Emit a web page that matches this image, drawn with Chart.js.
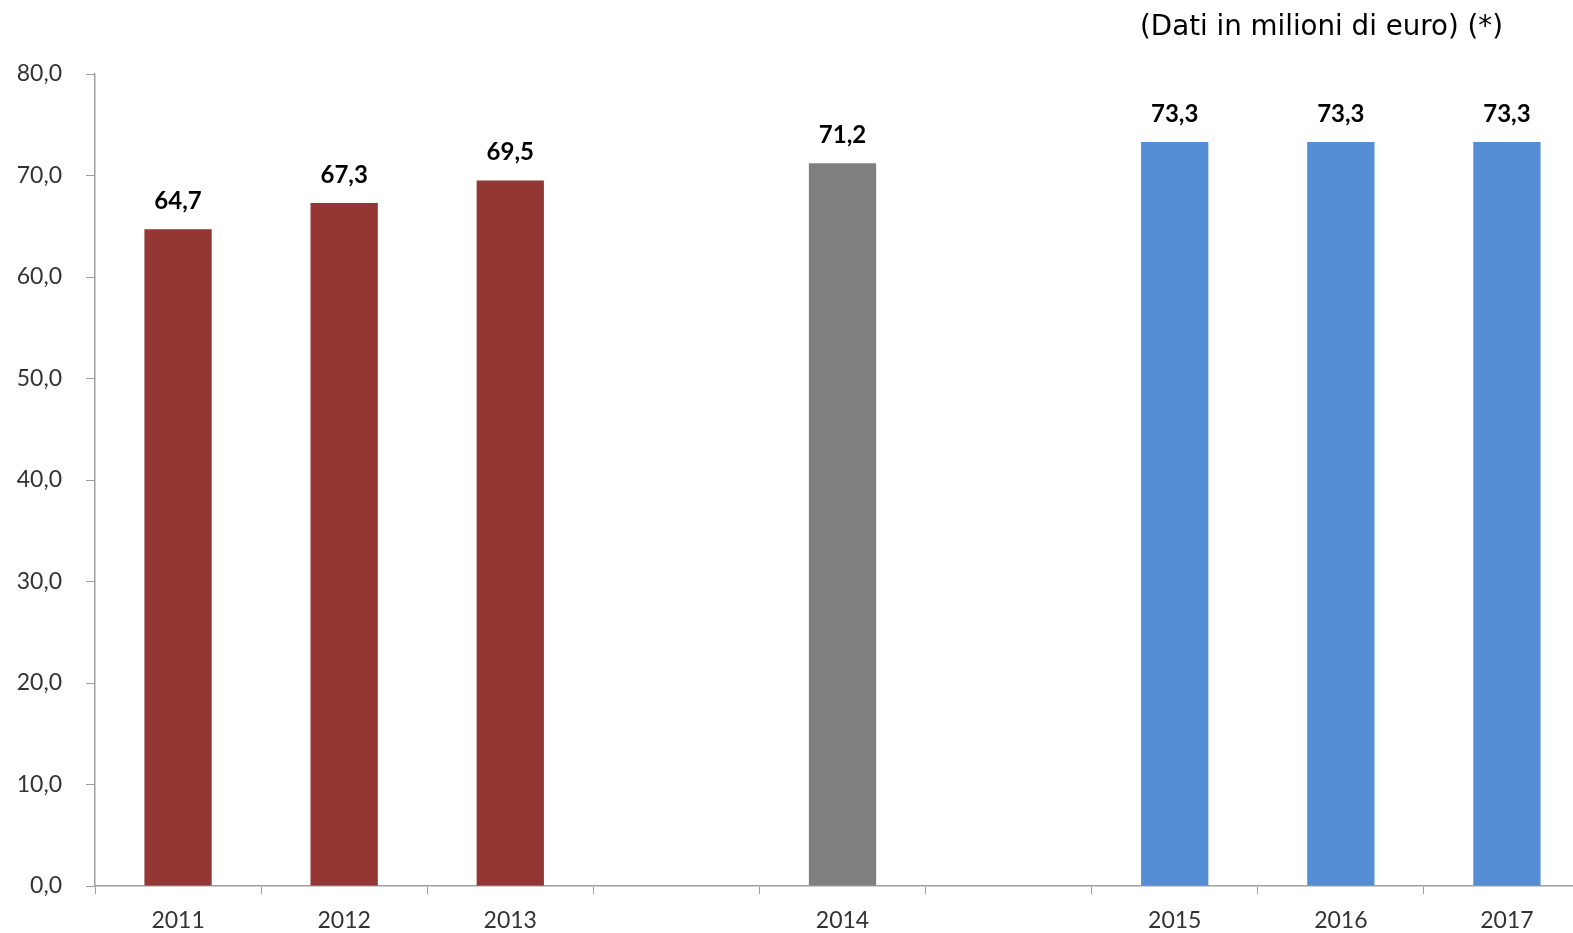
<!DOCTYPE html>
<html>
<head>
<meta charset="utf-8">
<script src="https://cdn.jsdelivr.net/npm/chart.js@4/dist/chart.umd.min.js"></script>
<style>
    html, body { margin: 0; padding: 0; background: #fff; }
    body { position: relative; width: 1573px; height: 933px; overflow: hidden; }
    #wrap { position: absolute; left: 0; top: 0; width: 1600px; height: 933px; }
    #note {
        position: absolute; top: 9px; right: 70px;
        font-family: "DejaVu Sans", Verdana, sans-serif; font-size: 27.7px; color: #000;
        white-space: nowrap; z-index: 2;
    }
</style>
</head>
<body>
<div id="note">(Dati in milioni di euro) (*)</div>
<div id="wrap"><canvas id="valoriChart" width="1600" height="933"></canvas></div>
<script>
// categories (blank slots are the gaps between the groups)
var years = ['2011', '2012', '2013', '', '2014', '', '2015', '2016', '2017'];
var values = [64.7, 67.3, 69.5, null, 71.2, null, 73.3, 73.3, 73.3];
var barColors = ['#943634', '#943634', '#943634', null, '#7f7f7f', null, '#558ed5', '#558ed5', '#558ed5'];
var yTicks = [0, 10, 20, 30, 40, 50, 60, 70, 80];

function fmt(v) {
    return v.toFixed(1).replace('.', ',');
}

// draws the value above each bar
var valueLabels = {
    id: 'valueLabels',
    afterDatasetsDraw: function(chart) {
        var ctx = chart.ctx;
        var meta = chart.getDatasetMeta(0);
        ctx.save();
        ctx.font = 'bold 24px Lato, "Open Sans", sans-serif';
        ctx.fillStyle = '#000';
        ctx.textAlign = 'center';
        ctx.textBaseline = 'middle';
        meta.data.forEach(function(bar, i) {
            if (values[i] === null) return;
            ctx.fillText(fmt(values[i]), bar.x, bar.y - 28);
        });
        ctx.restore();
    }
};

document.addEventListener("DOMContentLoaded", function() {
    var ctx = document.getElementById('valoriChart').getContext('2d');
    new Chart(ctx, {
        type: 'bar',
        data: {
            labels: years,
            datasets: [{
                data: values,
                backgroundColor: barColors,
                borderWidth: 0,
                categoryPercentage: 1.0,
                barPercentage: 0.405
            }]
        },
        options: {
            responsive: false,
            animation: false,
            layout: { padding: { top: 74, right: 10, left: 0, bottom: 0 } },
            plugins: {
                legend: { display: false },
                tooltip: { enabled: false }
            },
            scales: {
                x: {
                    afterFit: function(scale) { scale.height = 47; },
                    grid: {
                        offset: true,
                        drawOnChartArea: false,
                        tickLength: 8,
                        color: '#a0a0a0'
                    },
                    border: { color: '#a0a0a0', width: 1.5 },
                    ticks: {
                        padding: 13,
                        color: '#333333',
                        font: { family: 'Lato, "Open Sans", sans-serif', size: 23 }
                    }
                },
                y: {
                    min: 0,
                    max: 80,
                    afterFit: function(scale) { scale.width = 95; },
                    afterBuildTicks: function(scale) {
                        scale.ticks = yTicks.map(function(v) { return { value: v }; });
                    },
                    grid: {
                        drawOnChartArea: false,
                        tickLength: 9,
                        color: '#a0a0a0'
                    },
                    border: { color: '#a0a0a0', width: 1.5 },
                    ticks: {
                        padding: 24,
                        color: '#333333',
                        font: { family: 'Lato, "Open Sans", sans-serif', size: 23 },
                        callback: function(value) { return fmt(value); }
                    }
                }
            }
        },
        plugins: [valueLabels]
    });
});
</script>
</body>
</html>
